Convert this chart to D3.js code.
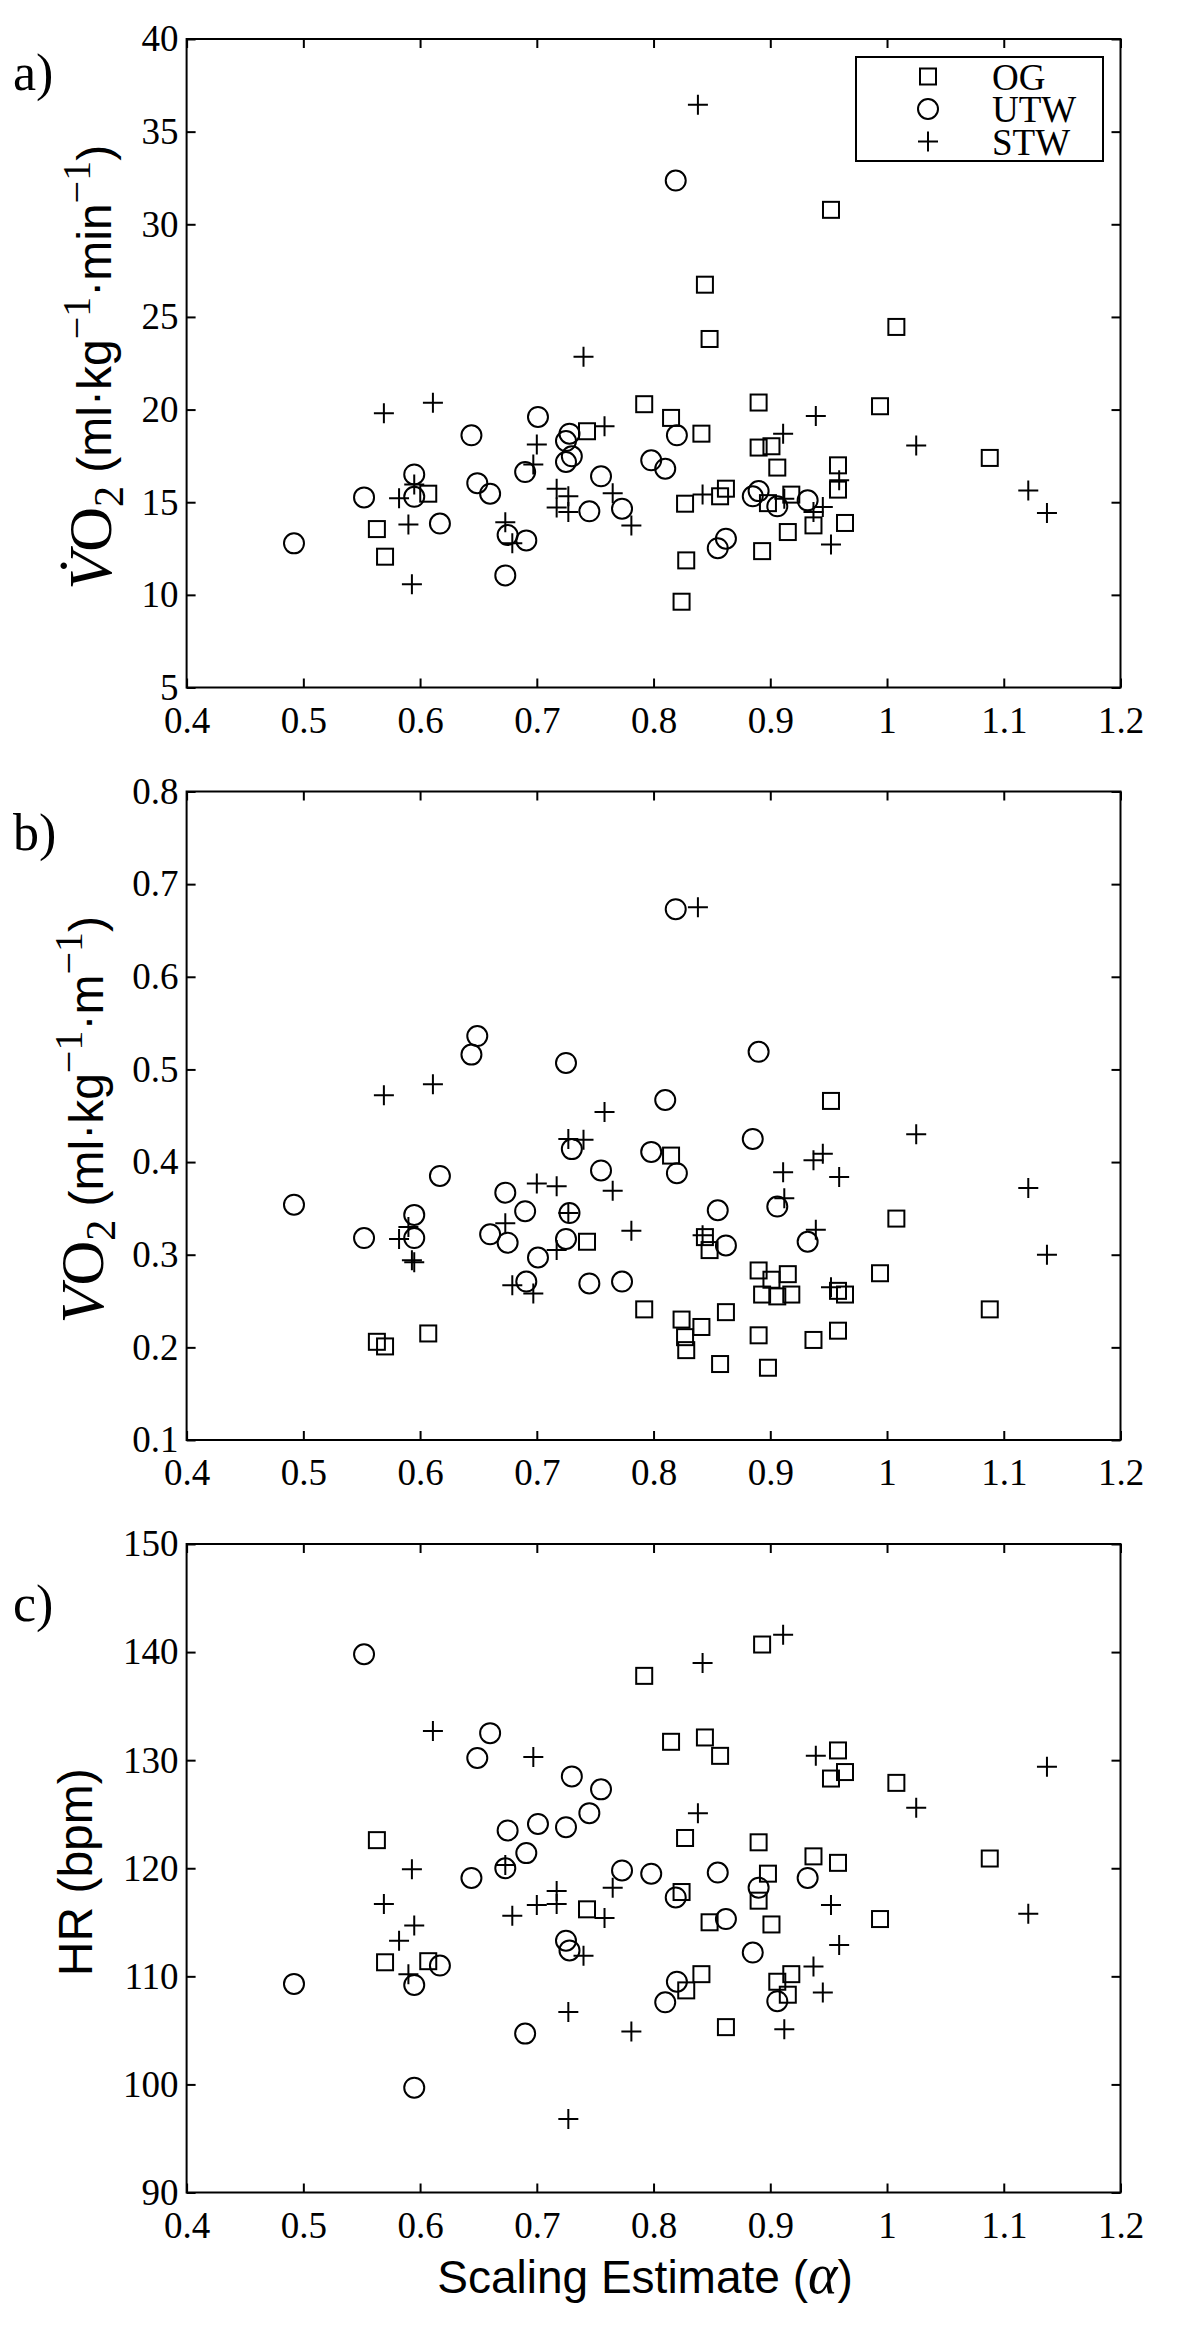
<!DOCTYPE html>
<html lang="en">
<head>
<meta charset="UTF-8">
<title>Scaling estimate vs VO2, cost and heart rate</title>
<script src="https://d3js.org/d3.v7.min.js"></script>
<style>
  body {margin:0; background:#fff;}
  svg {display:block;}
  text {white-space: pre;}
</style>
</head>
<body>
<div id="chart"></div>
<script>
// scaling estimate (alpha) per subject, and the three measures, per group
var ogAlpha = [0.563,0.570,0.607,0.743,0.792,0.815,0.824,0.827,0.828,0.841,0.844,0.848,0.857,0.862,0.890,
               0.890,0.893,0.898,0.901,0.906,0.915,0.918,0.937,0.952,0.958,0.958,0.964,0.994,1.008,1.088];
var ogVO2   = [13.55,12.06,15.46,18.83,20.29,19.55,9.63,14.92,11.86,18.70,26.74,23.81,15.32,15.73,20.38,
               17.95,12.36,14.95,18.02,16.87,13.39,15.41,13.75,30.78,16.99,15.68,13.88,20.18,24.46,17.39];
var ogCost  = [0.206,0.201,0.215,0.314,0.241,0.407,0.230,0.211,0.197,0.222,0.319,0.305,0.182,0.238,0.283,
               0.213,0.257,0.178,0.273,0.255,0.279,0.257,0.208,0.466,0.261,0.218,0.257,0.280,0.339,0.241];
var ogHR    = [122.6,111.3,111.4,116.2,137.8,131.7,117.8,122.8,108.7,110.2,132.1,115.0,130.4,105.3,122.4,
               117.0,140.7,119.5,114.8,109.5,108.3,110.2,121.1,128.3,130.9,120.5,128.9,115.3,127.9,120.9];

var utwAlpha = [0.492,0.552,0.595,0.595,0.617,0.644,0.649,0.660,0.673,0.675,0.690,0.691,0.701,0.725,0.725,
                0.728,0.730,0.745,0.755,0.773,0.798,0.810,0.820,0.819,0.855,0.862,0.885,0.890,0.906,0.932];
var utwVO2   = [12.78,15.26,16.50,15.29,13.85,18.61,16.03,15.46,11.05,13.23,16.63,12.94,19.60,18.30,17.17,
                18.70,17.48,14.51,16.40,14.65,17.26,16.81,18.61,32.36,12.52,13.03,15.32,15.60,14.78,15.10];
var utwCost  = [0.354,0.318,0.343,0.318,0.385,0.516,0.536,0.322,0.367,0.313,0.347,0.271,0.297,0.507,0.317,
                0.345,0.414,0.269,0.391,0.271,0.411,0.467,0.388,0.673,0.348,0.310,0.425,0.519,0.352,0.314];
var utwHR    = [109.3,139.8,109.2,99.7,111.0,119.1,130.2,132.5,120.0,123.5,104.7,121.4,124.1,123.8,113.3,
                112.4,128.5,125.1,127.3,119.8,119.5,107.6,109.5,117.3,119.6,115.3,112.2,118.2,107.7,119.1];

var stwAlpha = [0.569,0.582,0.590,0.593,0.595,0.611,0.673,0.679,0.697,0.700,0.717,0.717,0.727,0.727,0.740,
                0.758,0.765,0.781,0.838,0.842,0.911,0.912,0.937,0.939,0.945,0.952,0.959,1.025,1.121,1.137];
var stwVO2   = [19.80,15.21,13.80,10.57,15.95,20.37,13.92,12.78,17.03,18.12,15.73,14.71,15.32,14.47,22.85,
                19.10,15.49,13.75,36.45,15.42,18.70,15.19,14.47,19.65,14.74,12.72,16.18,18.06,15.63,14.42];
var stwCost  = [0.472,0.317,0.330,0.294,0.292,0.484,0.334,0.267,0.258,0.377,0.374,0.305,0.425,0.345,0.424,
                0.454,0.369,0.326,0.675,0.321,0.389,0.361,0.402,0.327,0.409,0.265,0.384,0.430,0.372,0.300];
var stwHR    = [116.7,113.3,110.2,119.9,114.7,132.7,120.3,115.6,130.3,116.6,117.9,116.7,106.7,96.8,111.9,
                115.4,118.2,104.9,125.1,139.0,141.6,105.1,110.9,130.4,108.5,116.6,112.9,125.6,115.8,129.4];

var groups = ["OG","UTW","STW"];

var xTicks    = [0.4,0.5,0.6,0.7,0.8,0.9,1.0,1.1,1.2];
var vo2Ticks  = [5,10,15,20,25,30,35,40];
var costTicks = [0.1,0.2,0.3,0.4,0.5,0.6,0.7,0.8];
var hrTicks   = [90,100,110,120,130,140,150];

var w = 1200, h = 2335;
var left = 186.6, right = 1120.5, ph = 648.5;
var serif = "'Liberation Serif', 'DejaVu Serif', serif";
var sans = "'Liberation Sans', 'DejaVu Sans', sans-serif";

var svg = d3.select("#chart").append("svg")
    .attr("width", w)
    .attr("height", h);

svg.append("rect").attr("width", w).attr("height", h).attr("fill", "white");

var x = d3.scaleLinear().domain([0.4, 1.2]).range([left, right]);

var panels = [
    {tag: "a)", top: 39,    domain: [5, 40],    ticks: vo2Ticks,  vals: [ogVO2, utwVO2, stwVO2],    labelX: 111, tagY: 89.5},
    {tag: "b)", top: 791.5, domain: [0.1, 0.8], ticks: costTicks, vals: [ogCost, utwCost, stwCost], labelX: 103, tagY: 850},
    {tag: "c)", top: 1544,  domain: [90, 150],  ticks: hrTicks,   vals: [ogHR, utwHR, stwHR],       labelX: 92,  tagY: 1621}
];
var alphas = [ogAlpha, utwAlpha, stwAlpha];

// marker drawing: square, circle, plus
function marker(sel, g, cx, cy) {
    if (g == 0) {
        sel.append("rect").attr("x", cx - 8).attr("y", cy - 8).attr("width", 16).attr("height", 16)
            .attr("fill", "none").attr("stroke", "black").attr("stroke-width", 2);
    } else if (g == 1) {
        sel.append("circle").attr("cx", cx).attr("cy", cy).attr("r", 10)
            .attr("fill", "none").attr("stroke", "black").attr("stroke-width", 2);
    } else {
        sel.append("path").attr("d", "M" + (cx - 10) + "," + cy + "H" + (cx + 10) + "M" + cx + "," + (cy - 10) + "V" + (cy + 10))
            .attr("fill", "none").attr("stroke", "black").attr("stroke-width", 2);
    }
}

function styleAxis(a) {
    a.selectAll(".domain").remove();
    a.selectAll(".tick line").attr("stroke", "black").attr("stroke-width", 2);
    a.selectAll(".tick text").attr("font-family", serif).attr("font-size", 37).attr("fill", "black");
}

panels.forEach(function(p, pi) {
    var bottom = p.top + ph;
    var y = d3.scaleLinear().domain(p.domain).range([bottom, p.top]);
    var g = svg.append("g");

    g.append("g").attr("transform", "translate(0," + bottom + ")")
        .call(d3.axisBottom(x).tickValues(xTicks).tickFormat(d3.format("~g"))
            .tickSizeInner(-9).tickSizeOuter(0).tickPadding(19))
        .call(styleAxis);
    g.append("g").attr("transform", "translate(0," + p.top + ")")
        .call(d3.axisTop(x).tickValues(xTicks).tickFormat("").tickSizeInner(-9).tickSizeOuter(0))
        .call(styleAxis);
    g.append("g").attr("transform", "translate(" + left + ",0)")
        .call(d3.axisLeft(y).tickValues(p.ticks).tickFormat(d3.format("~g"))
            .tickSizeInner(-9).tickSizeOuter(0).tickPadding(8))
        .call(styleAxis);
    g.append("g").attr("transform", "translate(" + right + ",0)")
        .call(d3.axisRight(y).tickValues(p.ticks).tickFormat("").tickSizeInner(-9).tickSizeOuter(0))
        .call(styleAxis);

    g.append("rect")
        .attr("x", left).attr("y", p.top)
        .attr("width", right - left).attr("height", ph)
        .attr("fill", "none").attr("stroke", "black").attr("stroke-width", 2);

    var pts = g.append("g");
    p.vals.forEach(function(vals, gi) {
        vals.forEach(function(v, i) {
            marker(pts, gi, x(alphas[gi][i]), y(v));
        });
    });

    g.append("text")
        .attr("x", 13).attr("y", p.tagY)
        .attr("font-family", serif).attr("font-size", 52)
        .text(p.tag);

    // y axis title
    var t = g.append("text")
        .attr("transform", "translate(" + p.labelX + "," + (p.top + ph / 2 + 4) + ") rotate(-90)")
        .attr("text-anchor", "middle")
        .attr("fill", "black");
    if (pi < 2) {
        t.append("tspan").attr("font-family", serif).attr("font-style", "italic").attr("font-size", 62)
            .text(pi == 0 ? "V\u0307" : "V");
        t.append("tspan").attr("font-family", serif).attr("font-size", 62).text("O");
        t.append("tspan").attr("font-family", serif).attr("font-size", 42).attr("dy", 12).text("2");
        t.append("tspan").attr("font-family", sans).attr("font-size", 48).attr("dy", -12).text(" (ml\u00b7kg");
        t.append("tspan").attr("font-family", serif).attr("font-size", 40).attr("dy", -21).text("\u22121");
        t.append("tspan").attr("font-family", sans).attr("font-size", 48).attr("dy", 21).text(pi == 0 ? "\u00b7min" : "\u00b7m");
        t.append("tspan").attr("font-family", serif).attr("font-size", 40).attr("dy", -21).text("\u22121");
        t.append("tspan").attr("font-family", sans).attr("font-size", 48).attr("dy", 21).text(")");
    } else {
        t.append("tspan").attr("font-family", sans).attr("font-size", 48).text("HR (bpm)");
    }

    // legend, top panel only
    if (pi == 0) {
        var lg = g.append("g");
        lg.append("rect").attr("x", 856).attr("y", 57).attr("width", 247).attr("height", 104)
            .attr("fill", "white").attr("stroke", "black").attr("stroke-width", 2);
        var rows = [76.5, 109, 141.5];
        var lt = lg.append("text").attr("font-family", serif).attr("font-size", 37);
        groups.forEach(function(name, gi) {
            marker(lg, gi, 928, rows[gi]);
            lt.append("tspan").attr("x", 992).attr("y", rows[gi] + 13).text(name);
        });
    }
});

// x axis title under bottom panel
var xt = svg.append("text")
    .attr("x", 645).attr("y", 2293)
    .attr("text-anchor", "middle")
    .attr("fill", "black");
xt.append("tspan").attr("font-family", sans).attr("font-size", 46).text("Scaling Estimate (");
xt.append("tspan").attr("font-family", serif).attr("font-style", "italic").attr("font-size", 56).text("\u03b1");
xt.append("tspan").attr("font-family", sans).attr("font-size", 46).text(")");
</script>
</body>
</html>
